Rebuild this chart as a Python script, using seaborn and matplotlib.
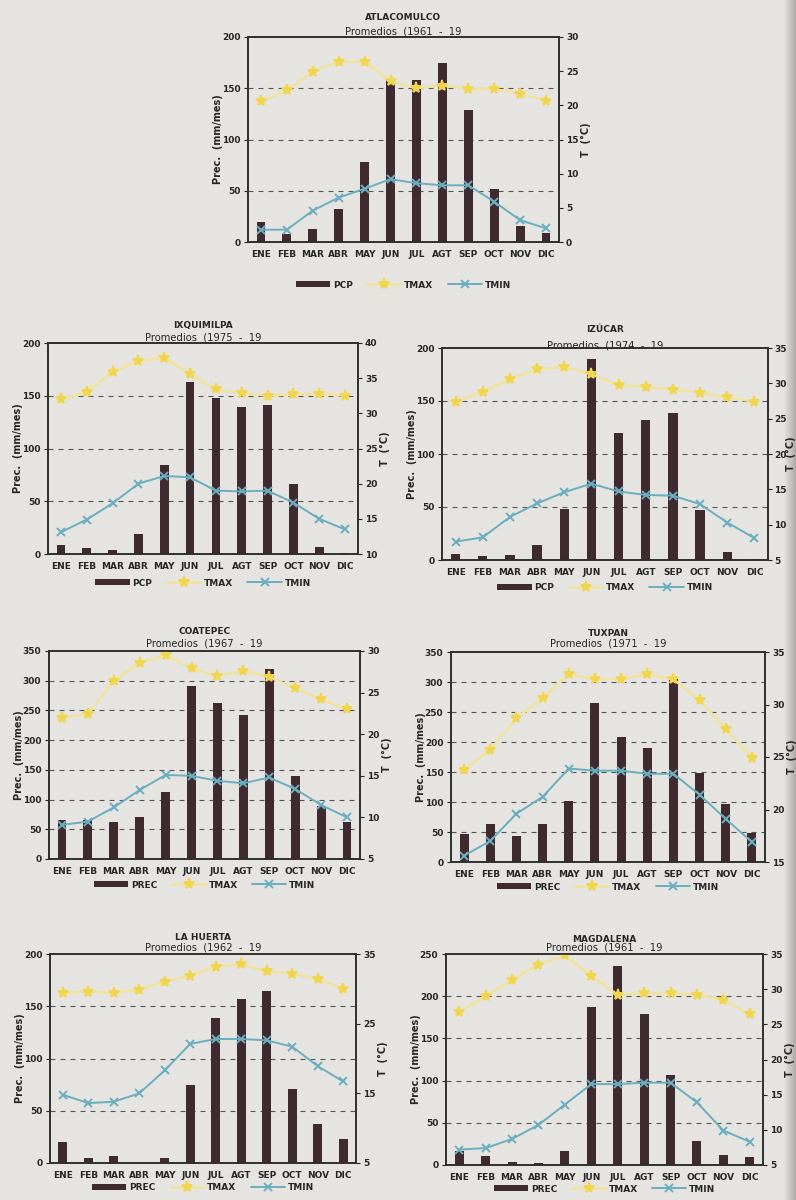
import numpy as np
import pandas as pd
import matplotlib
matplotlib.use("Agg")
import matplotlib.pyplot as plt
from matplotlib.colors import LinearSegmentedColormap
import seaborn as sns

sns.set_style("white")
plt.rcParams["font.family"] = ["Liberation Sans Narrow", "DejaVu Sans"]

# ---------------------------------------------------------------- data
months = ["ENE", "FEB", "MAR", "ABR", "MAY", "JUN",
          "JUL", "AGT", "SEP", "OCT", "NOV", "DIC"]

atlacomulco_prec = [20, 8, 13, 32, 78, 158, 158, 175, 129, 52, 16, 9]
atlacomulco_tmax = [20.6, 22.2, 24.9, 26.4, 26.4, 23.5, 22.5, 22.9, 22.4, 22.4, 21.7, 20.7]
atlacomulco_tmin = [1.8, 1.8, 4.6, 6.5, 7.8, 9.2, 8.6, 8.3, 8.3, 5.9, 3.2, 2.0]

ixquimilpa_prec = [9, 6, 4, 19, 84, 163, 148, 139, 141, 66, 7, 1]
ixquimilpa_tmax = [32.0, 33.0, 35.9, 37.4, 37.9, 35.6, 33.4, 32.9, 32.5, 32.7, 32.8, 32.5]
ixquimilpa_tmin = [13.1, 14.9, 17.2, 20.0, 21.1, 20.9, 19.0, 18.9, 19.0, 17.3, 15.0, 13.5]

izucar_prec = [6, 4, 5, 14, 48, 190, 120, 132, 139, 47, 8, 1]
izucar_tmax = [27.4, 28.8, 30.6, 32.0, 32.3, 31.3, 29.7, 29.5, 29.1, 28.7, 28.0, 27.4]
izucar_tmin = [7.6, 8.2, 11.1, 13.0, 14.6, 15.8, 14.7, 14.2, 14.1, 12.9, 10.3, 8.1]

coatepec_prec = [66, 66, 62, 70, 112, 291, 263, 242, 319, 140, 89, 63]
coatepec_tmax = [22.0, 22.4, 26.4, 28.6, 29.5, 27.9, 27.0, 27.6, 26.9, 25.5, 24.2, 23.0]
coatepec_tmin = [9.1, 9.5, 11.2, 13.3, 15.1, 15.0, 14.4, 14.1, 14.8, 13.4, 11.5, 10.0]

tuxpan_prec = [46, 64, 43, 63, 102, 265, 209, 190, 305, 149, 96, 49]
tuxpan_tmax = [23.8, 25.7, 28.7, 30.6, 32.9, 32.4, 32.4, 32.9, 32.4, 30.4, 27.7, 24.9]
tuxpan_tmin = [15.6, 17.0, 19.6, 21.2, 23.9, 23.7, 23.7, 23.4, 23.4, 21.4, 19.1, 16.9]

lahuerta_prec = [20, 4.5, 7, 0, 5, 75, 139, 157, 165, 71, 37, 23]
lahuerta_tmax = [29.4, 29.6, 29.4, 29.9, 31.0, 31.9, 33.2, 33.5, 32.5, 32.2, 31.4, 30.0]
lahuerta_tmin = [14.8, 13.6, 13.8, 15.0, 18.3, 22.1, 22.8, 22.8, 22.6, 21.7, 18.9, 16.7]

magdalena_prec = [16, 11, 3, 2, 17, 187, 236, 179, 107, 28, 12, 9]
magdalena_tmax = [26.7, 29.0, 31.3, 33.5, 34.8, 31.9, 29.2, 29.4, 29.4, 29.2, 28.5, 26.4]
magdalena_tmin = [7.2, 7.4, 8.7, 10.7, 13.6, 16.5, 16.5, 16.7, 16.7, 13.9, 9.9, 8.3]

# ---------------------------------------------------------------- style
BG = "#e6e4e1"
BAR = "#3f2b2f"
TMAX_LINE = "#f1e39c"
TMAX_MK = "#f2d54f"
TMIN_C = "#6aaebf"
GRID = "#555555"
SPINE = "#2e2e2e"
TXT = "#262626"

W, H = 796, 1200

fig = plt.figure(figsize=(W / 100, H / 100), dpi=100, facecolor=BG)

# darker page edge on the right, kept behind everything else
edge = fig.add_axes([784 / W, 0, 12 / W, 1])
edge.imshow(np.linspace(0, 1, 50)[None, :], aspect="auto",
            cmap=LinearSegmentedColormap.from_list("edge", [BG, "#adaba8"]))
edge.axis("off")
edge.set_zorder(-10)


def px_rect(left, top, right, bottom):
    return [left / W, 1 - bottom / H, (right - left) / W, (bottom - top) / H]


def climograph(rect, name, period, prec, tmax, tmin, prec_name,
               pmax, tlo, thi, tstep, name_off, per_off, leg_off,
               t_pad=1.5, t_tickpad=2):
    ax = fig.add_axes(px_rect(*rect))
    ax.set_facecolor("none")
    ax.set_axisbelow(True)

    df = pd.DataFrame({"mes": months, "prec": prec,
                       "tmax": tmax, "tmin": tmin})

    sns.barplot(data=df, x="mes", y="prec", order=months, color=BAR,
                width=0.34, saturation=1, errorbar=None, ax=ax,
                linewidth=0, zorder=2)
    ax.set_ylim(0, pmax)
    ax.set_yticks(np.arange(0, pmax + 1, 50))
    for v in np.arange(50, pmax, 50):
        ax.axhline(v, color=GRID, lw=0.8, ls=(0, (4.5, 4.5)), zorder=1)

    ax2 = ax.twinx()
    sns.pointplot(data=df, x="mes", y="tmax", order=months, color=TMAX_LINE,
                  markers="*", linestyles="-", errorbar=None, ax=ax2,
                  linewidth=1.8, markersize=8)
    sns.pointplot(data=df, x="mes", y="tmin", order=months, color=TMIN_C,
                  markers="x", linestyles="-", errorbar=None, ax=ax2,
                  linewidth=1.4, markersize=6, markeredgewidth=1.4)
    l_max, l_min = ax2.lines[0], ax2.lines[1]
    l_max.set_markerfacecolor(TMAX_MK)
    l_max.set_markeredgecolor(TMAX_MK)
    ax2.set_ylim(tlo, thi)
    ax2.set_yticks(np.arange(tlo, thi + 0.01, tstep))
    ax2.set_xlabel("")

    ax.set_xlim(-0.5, 11.5)
    ax.set_xticks(range(12))
    ax.set_xticklabels(months)
    ax.set_xlabel("")
    ax.set_ylabel("Prec.  (mm/mes)", fontsize=7, fontweight="bold",
                  color=TXT, labelpad=-1)
    ax2.set_ylabel("T  (°C)", fontsize=7, fontweight="bold", color=TXT,
                   labelpad=t_pad)

    ax.tick_params(axis="x", length=0, pad=6, labelsize=6.5, colors=TXT)
    ax.tick_params(axis="y", length=3, width=0.8, direction="out",
                   labelsize=6.5, colors=TXT, left=True, pad=2.5)
    ax2.tick_params(axis="y", length=3, width=0.8, direction="out",
                    labelsize=6.5, colors=TXT, right=True, pad=t_tickpad)
    for lab in ax.get_xticklabels() + ax.get_yticklabels() + ax2.get_yticklabels():
        lab.set_fontweight("bold")

    for a in (ax, ax2):
        for s in a.spines.values():
            s.set_visible(True)
            s.set_color(SPINE)
            s.set_linewidth(1.2)

    ax.annotate(name, xy=(0.5, 1), xycoords="axes fraction",
                xytext=(0, name_off * 0.72), textcoords="offset points",
                ha="center", va="center", fontsize=6.5, fontweight="bold",
                color=TXT)
    ax.annotate(period, xy=(0.5, 1), xycoords="axes fraction",
                xytext=(0, per_off * 0.72), textcoords="offset points",
                ha="center", va="center", fontsize=7.2, color=TXT)

    h_bar = ax.containers[0]
    ax.legend([h_bar, l_max, l_min], [prec_name, "TMAX", "TMIN"],
              loc="center", bbox_to_anchor=(0.5, -leg_off / (rect[3] - rect[1])),
              ncol=3, frameon=False, handlelength=3.8,
              handleheight=0.6, columnspacing=1.6, handletextpad=0.3,
              labelcolor=TXT, prop={"weight": "bold", "size": 6.5})


climograph((248, 37, 559, 242), "ATLACOMULCO", "Promedios  (1961  -  19",
           atlacomulco_prec, atlacomulco_tmax, atlacomulco_tmin, "PCP",
           200, 0, 30, 5, 20, 5, 43)
climograph((48, 343, 358, 554), "IXQUIMILPA", "Promedios  (1975  -  19",
           ixquimilpa_prec, ixquimilpa_tmax, ixquimilpa_tmin, "PCP",
           200, 10, 40, 5, 18, 6, 29)
climograph((442, 348, 768, 560), "IZÚCAR", "Promedios  (1974  -  19",
           izucar_prec, izucar_tmax, izucar_tmin, "PCP",
           200, 5, 35, 5, 18, 3, 28, t_pad=-0.5, t_tickpad=1.5)
climograph((49, 651, 360, 859), "COATEPEC", "Promedios  (1967  -  19",
           coatepec_prec, coatepec_tmax, coatepec_tmin, "PREC",
           350, 5, 30, 5, 19, 8, 26)
climograph((451, 652, 765, 862), "TUXPAN", "Promedios  (1971  -  19",
           tuxpan_prec, tuxpan_tmax, tuxpan_tmin, "PREC",
           350, 15, 35, 5, 19, 9, 25)
climograph((50, 954, 356, 1163), "LA HUERTA", "Promedios  (1962  -  19",
           lahuerta_prec, lahuerta_tmax, lahuerta_tmin, "PREC",
           200, 5, 35, 10, 16, 6, 25)
climograph((446, 954, 763, 1165), "MAGDALENA", "Promedios  (1961  -  19",
           magdalena_prec, magdalena_tmax, magdalena_tmin, "PREC",
           250, 5, 35, 5, 14, 6, 24)

fig.savefig("out.png", dpi=100, facecolor=BG)
